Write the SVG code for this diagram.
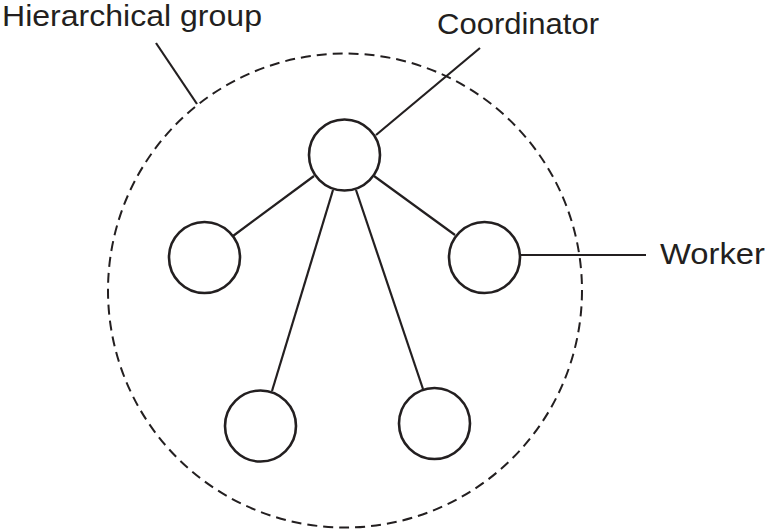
<svg xmlns="http://www.w3.org/2000/svg" width="771" height="529" viewBox="0 0 771 529">
<style>
.node{fill:#fff;stroke:#231f20;stroke-width:2.6}
.edge{stroke:#231f20;stroke-width:2.2;fill:none}
.group{fill:none;stroke:#231f20;stroke-width:2;stroke-dasharray:10 6}
.lbl{font-family:"Liberation Sans",Arial,sans-serif;font-size:29px;fill:#231f20}
</style>
<rect width="771" height="529" fill="#fff"/>
<g id="group">
<circle class="group" cx="345" cy="290.5" r="237"/>
</g>
<g id="connectors">
<line class="edge" x1="314" y1="176" x2="233" y2="236"/>
<line class="edge" x1="374" y1="176" x2="455" y2="235"/>
<line class="edge" x1="333" y1="190" x2="272" y2="391"/>
<line class="edge" x1="356" y1="190" x2="423" y2="389"/>
<line class="edge" x1="376" y1="135" x2="480" y2="48"/>
<line class="edge" x1="156" y1="43" x2="197" y2="104"/>
<line class="edge" x1="521" y1="255" x2="646" y2="255"/>
</g>
<g id="coordinator"><circle class="node" cx="344.5" cy="155" r="35.5"/></g>
<g id="worker-left"><circle class="node" cx="204.5" cy="257.5" r="35.5"/></g>
<g id="worker-right"><circle class="node" cx="484.5" cy="257.5" r="35.5"/></g>
<g id="worker-bottom-left"><circle class="node" cx="260.5" cy="426" r="35.5"/></g>
<g id="worker-bottom-right"><circle class="node" cx="434.5" cy="423.5" r="35.5"/></g>
<g id="labels">
<text class="lbl" x="2" y="26" textLength="260" lengthAdjust="spacingAndGlyphs">Hierarchical group</text>
<text class="lbl" x="437" y="34" textLength="162" lengthAdjust="spacingAndGlyphs">Coordinator</text>
<text class="lbl" x="660" y="264" textLength="105" lengthAdjust="spacingAndGlyphs">Worker</text>
</g>
</svg>
